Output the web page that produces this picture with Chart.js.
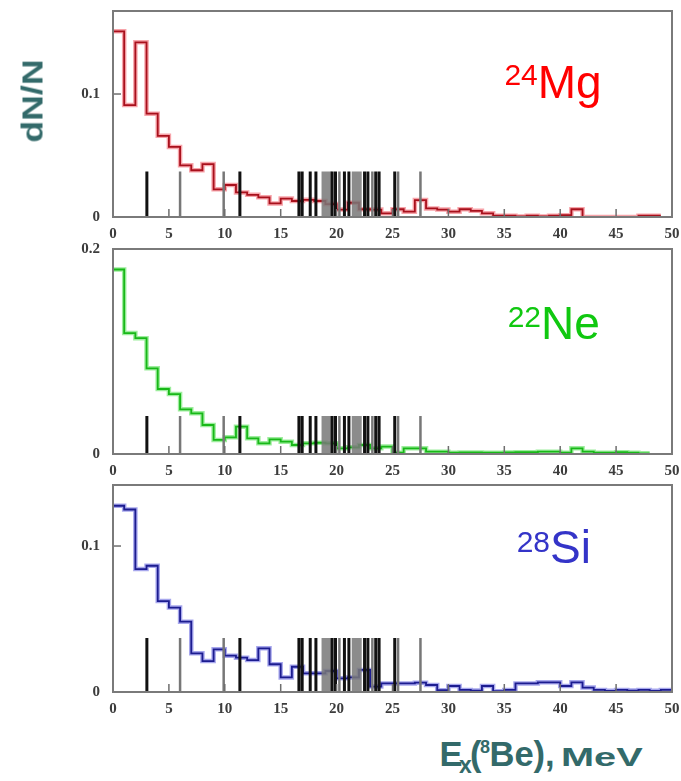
<!DOCTYPE html>
<html>
<head>
<meta charset="utf-8">
<script src="https://cdn.jsdelivr.net/npm/chart.js@4.4.1/dist/chart.umd.min.js"></script>
<style>
    body { margin: 0; background: #fff; width: 681px; height: 781px; position: relative; overflow: hidden; }
    .panel { position: absolute; left: 0; }
    .iso { position: absolute; font-family: "Liberation Sans", Arial, sans-serif; font-size: 46px; line-height: 1; white-space: nowrap; }
    .iso .sup { font-size: 30px; position: relative; }
    .ttl { position: absolute; font-family: "Liberation Sans", Arial, sans-serif; font-weight: bold; color: #336a6a; line-height: 1; white-space: nowrap; }
</style>
</head>
<body>
<div class="panel" style="top:0;"><canvas id="chartMg" width="681" height="245"></canvas></div>
<div class="panel" style="top:240px;"><canvas id="chartNe" width="681" height="240"></canvas></div>
<div class="panel" style="top:480px;"><canvas id="chartSi" width="681" height="245"></canvas></div>

<div class="iso" style="left:504.4px; top:59px; color:#ff0000;"><span class="sup" style="top:-13.5px;">24</span>Mg</div>
<div class="iso" style="left:507.7px; top:300px; color:#10c810;"><span class="sup" style="top:-12.5px;">22</span>Ne</div>
<div class="iso" style="left:516.7px; top:524px; color:#3434c8;"><span class="sup" style="top:-11.5px;">28</span>Si</div>

<div class="ttl" style="left:32.5px; top:100.5px; font-size:29px; transform: translate(-50%, -50%) rotate(-90deg) scaleX(1.23);">dN/N</div>

<div class="ttl" style="left:439.5px; top:736.8px; font-size:34.5px;">E</div>
<div class="ttl" style="left:459px; top:753.5px; font-size:23px;">x</div>
<div class="ttl" style="left:470px; top:736.8px; font-size:34.5px;">(</div>
<div class="ttl" style="left:480px; top:737.8px; font-size:18px;">8</div>
<div class="ttl" style="left:489.5px; top:736.8px; font-size:34.5px;">Be),</div>
<div class="ttl" style="left:561px; top:743.6px; font-size:26.5px; transform-origin: 0 0; transform: scaleX(1.5);">MeV</div>

<script>
// bin counts per 1 MeV, starting at 0 MeV
const mgCounts = [0.151, 0.091, 0.142, 0.084, 0.066, 0.057, 0.042, 0.038, 0.043, 0.0225,
    0.026, 0.020, 0.018, 0.016, 0.011, 0.015, 0.013, 0.014, 0.013, 0.0105,
    0.006, 0.0116, 0.0063, 0.006, 0.003, 0.0063, 0.0043, 0.0138, 0.007, 0.006,
    0.0043, 0.0063, 0.005, 0.003, 0.001, 0.001, 0.0005, 0.001, 0.0005, 0.001,
    0.0015, 0.0063, 0, 0, 0, 0, 0, 0.001, 0.001];
const neCounts = [0.180, 0.118, 0.113, 0.0836, 0.0634, 0.0585, 0.0436, 0.0397, 0.0283, 0.0137,
    0.0163, 0.0267, 0.0153, 0.0104, 0.0143, 0.012, 0.0088, 0.0104, 0.011, 0.0104,
    0.0055, 0.0065, 0.0088, 0.0055, 0.0072, 0.0013, 0.0055, 0.0055, 0.0023, 0.0023,
    0.0013, 0.0015, 0.0015, 0.0013, 0.0013, 0.0015, 0.0018, 0.0018, 0.0023, 0.0023,
    0.0013, 0.0055, 0.0023, 0.0013, 0.0013, 0.0018, 0.0013, 0.0007];
const siCounts = [0.1276, 0.125, 0.0842, 0.0865, 0.0623, 0.0578, 0.0482, 0.0265, 0.0212, 0.0292,
    0.0249, 0.0235, 0.0219, 0.0299, 0.019, 0.0100, 0.0173, 0.0128, 0.0128, 0.0144,
    0.0094, 0.0100, 0.0151, 0.0037, 0.0059, 0.0059, 0.0059, 0.0064, 0.0048, 0.0012,
    0.0041, 0.0014, 0.0010, 0.0041, 0.0005, 0.0014, 0.0059, 0.0059, 0.0066, 0.0066,
    0.0041, 0.0066, 0.0030, 0.0014, 0.0008, 0.0014, 0.0010, 0.0014, 0.0008, 0.0014];

// 8Be levels, MeV
const levelsBlack = [3.03, 11.35, 16.63, 16.92, 17.64, 18.15, 19.6, 19.9, 20.7, 21.1, 22.5, 22.8, 23.5, 23.8, 25.2];
const levelsGrey = [6.0, 9.9, 20.25, 23.2, 25.5, 27.5];
const levelsBroad = [19.1, 21.8];
const levelHeight = 0.037;

const energyTicks = [0, 5, 10, 15, 20, 25, 30, 35, 40, 45, 50];
const mgTicks = [0, 0.1];
const neTicks = [0, 0.2];
const siTicks = [0, 0.1];

const tickFont = { family: '"Liberation Serif", "Times New Roman", serif', size: 15, weight: 'bold' };
const tickColor = '#3c3c3c';

function histPoints(counts) {
    const pts = counts.map((v, i) => ({ x: i, y: v }));
    pts.push({ x: counts.length, y: counts[counts.length - 1] });
    return pts;
}

function levelPoints(levels) {
    const pts = [];
    levels.forEach(e => {
        pts.push({ x: e, y: 0 }, { x: e, y: levelHeight }, { x: e, y: null });
    });
    return pts;
}

function levelSet(levels, color, width) {
    return {
        data: levelPoints(levels),
        borderColor: color,
        borderWidth: width,
        pointRadius: 0,
        spanGaps: false
    };
}

// inward tick marks and the grey frame around the plot
const frameTicks = {
    id: 'frameTicks',
    afterDraw(chart) {
        const { ctx, chartArea: a, scales: { x, y } } = chart;
        ctx.save();
        ctx.strokeStyle = '#6e6e6e';
        ctx.lineWidth = 1.5;
        x.ticks.forEach(t => {
            if (t.value <= x.min || t.value >= x.max) return;
            const px = x.getPixelForValue(t.value);
            ctx.beginPath(); ctx.moveTo(px, a.bottom); ctx.lineTo(px, a.bottom - 8); ctx.stroke();
        });
        y.ticks.forEach(t => {
            if (t.value <= 0) return;
            const py = y.getPixelForValue(t.value);
            ctx.beginPath(); ctx.moveTo(a.left, py); ctx.lineTo(a.left + 8, py); ctx.stroke();
        });
        ctx.strokeStyle = '#7a7a7a';
        ctx.lineWidth = 2;
        ctx.strokeRect(a.left, a.top, a.right - a.left, a.bottom - a.top);
        ctx.restore();
    }
};

function makePanel(id, counts, coreColor, haloColor, yMax, yTicks, padTop, xHeight) {
    const ctx = document.getElementById(id).getContext('2d');
    return new Chart(ctx, {
        type: 'line',
        data: {
            datasets: [
                levelSet(levelsBlack, '#111', 3),
                levelSet(levelsGrey, '#777', 2.5),
                levelSet(levelsBroad, 'rgba(120,120,120,0.85)', 10),
                { data: histPoints(counts), borderColor: coreColor, borderWidth: 1.8, stepped: true, pointRadius: 0 },
                { data: histPoints(counts), borderColor: haloColor, borderWidth: 4.5, stepped: true, pointRadius: 0 }
            ]
        },
        options: {
            responsive: false,
            animation: false,
            layout: { padding: { top: padTop, right: 9, left: 0, bottom: 0 } },
            plugins: { legend: { display: false }, tooltip: { enabled: false } },
            scales: {
                x: {
                    type: 'linear', min: 0, max: 50,
                    afterBuildTicks: s => { s.ticks = energyTicks.map(v => ({ value: v })); },
                    afterFit: s => { s.height = xHeight; s.paddingLeft = 0; s.paddingRight = 0; },
                    grid: { display: false, drawTicks: false },
                    border: { display: false },
                    ticks: { font: tickFont, color: tickColor, padding: 8, maxRotation: 0, callback: v => String(v) }
                },
                y: {
                    type: 'linear', min: 0, max: yMax,
                    afterBuildTicks: s => { s.ticks = yTicks.map(v => ({ value: v })); },
                    afterFit: s => { s.width = 113; s.paddingTop = 0; s.paddingBottom = 0; },
                    grid: { display: false, drawTicks: false },
                    border: { display: false },
                    ticks: { font: tickFont, color: tickColor, padding: 13, callback: v => String(v) }
                }
            }
        },
        plugins: [frameTicks]
    });
}

makePanel('chartMg', mgCounts, '#a8101c', 'rgba(240,90,100,0.55)', 0.1675, mgTicks, 11, 28);
makePanel('chartNe', neCounts, '#18b818', 'rgba(60,220,60,0.5)', 0.2, neTicks, 9, 26);
makePanel('chartSi', siCounts, '#1c1c90', 'rgba(80,80,220,0.5)', 0.1418, siTicks, 5, 33);
</script>
</body>
</html>
